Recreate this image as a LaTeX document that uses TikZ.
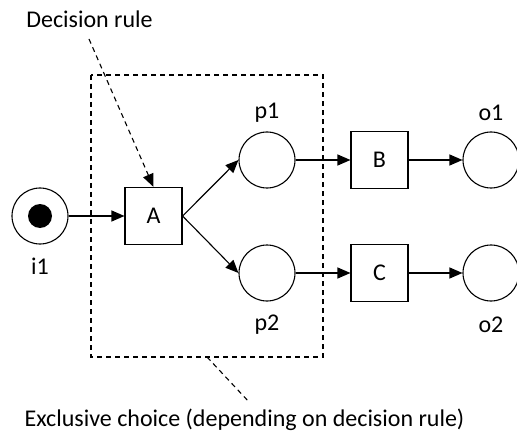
\documentclass[tikz,border=0pt]{standalone}
\usepackage{fontspec}
\setmainfont{Carlito}
\usetikzlibrary{arrows.meta}
\begin{document}
\begin{tikzpicture}[x=1pt,y=-1pt,
  every node/.style={font=\fontsize{24}{28}\selectfont},
  place/.style={circle,draw,line width=1.1pt,minimum size=56pt,inner sep=0pt},
  trans/.style={rectangle,draw,line width=1.1pt,minimum size=57pt,inner sep=0pt},
  token/.style={circle,fill,minimum size=24pt,inner sep=0pt},
  arc/.style={-{Triangle[length=13pt,width=11pt]},line width=1.1pt},
  ann/.style={dash pattern=on 5pt off 4pt,line width=1.1pt},
  lbl/.style={inner sep=0pt}]
\useasboundingbox (0,0) rectangle (517,441);
% dashed region
\draw[ann] (91,75) rectangle (323,357);
% places and transitions
\node[place] (i1) at (40,216) {};
\node[token] (tok) at (40,216) {};
\node[trans] (A) at (153.5,216) {A};
\node[place] (p1) at (267,160) {};
\node[place] (p2) at (267,273) {};
\node[trans] (B) at (379.5,160) {B};
\node[trans] (C) at (379.5,273) {C};
\node[place] (o1) at (491,160) {};
\node[place] (o2) at (491,273) {};
% labels
\node[lbl] (li1) at (40,266) {i1};
\node[lbl] (lp1) at (267,113) {p1};
\node[lbl] (lp2) at (267,325) {p2};
\node[lbl] (lo1) at (491,113) {o1};
\node[lbl] (lo2) at (491,325) {o2};
% arcs
\draw[arc] (i1) -- (A);
\draw[arc] (A.east) -- (p1.west);
\draw[arc] (A.east) -- (p2.west);
\draw[arc] (p1) -- (B);
\draw[arc] (p2) -- (C);
\draw[arc] (B) -- (o1);
\draw[arc] (C) -- (o2);
% annotations
\node[lbl] (dr) at (89.5,19) {Decision rule};
\coordinate (drs) at (89,39);
\draw[ann,-{Triangle[length=13pt,width=11pt]}] (drs) -- (A.north);
\node[lbl] (ec) at (244.5,420) {Exclusive choice (depending on decision rule)};
\coordinate (ecs) at (207,357);
\coordinate (ece) at (250,403);
\draw[ann] (ecs) -- (ece);
\end{tikzpicture}
\end{document}
